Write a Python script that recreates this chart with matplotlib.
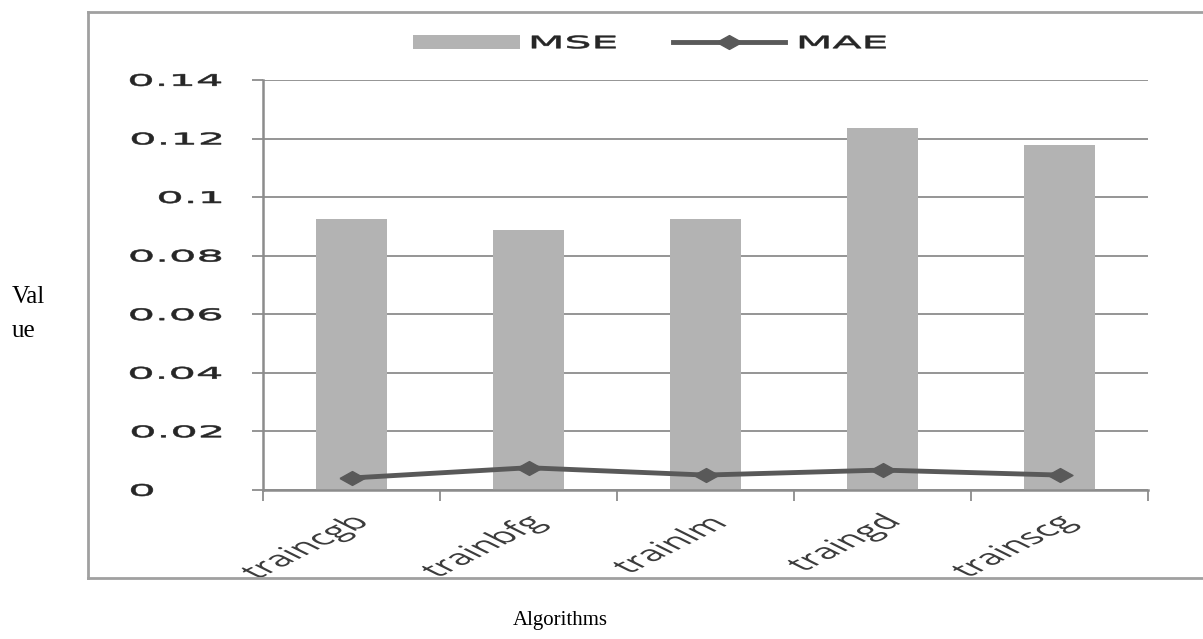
import matplotlib
matplotlib.use("Agg")
import matplotlib.pyplot as plt
from matplotlib.lines import Line2D
from matplotlib.patches import PathPatch, Rectangle
from matplotlib.textpath import TextPath
from matplotlib.font_manager import FontProperties
from matplotlib.transforms import Affine2D, IdentityTransform
import numpy as np

algorithms = ["traincgb", "trainbfg", "trainlm", "traingd", "trainscg"]
mse = [0.0925, 0.0888, 0.0925, 0.1236, 0.1178]
mae = [0.0041, 0.0076, 0.0051, 0.0068, 0.0051]
yticks = [0, 0.02, 0.04, 0.06, 0.08, 0.1, 0.12, 0.14]
ytick_labels = ["0", "0.02", "0.04", "0.06", "0.08", "0.1", "0.12", "0.14"]

W, H = 1203, 639
fig = plt.figure(figsize=(W / 100, H / 100), dpi=100)
ax = fig.add_axes([263 / W, 1 - 490 / H, 885 / W, 410 / H])

BAR_COLOR = "#b3b3b3"
LINE_COLOR = "#595959"
GRID = "#8c8c8c"
# the chart was pasted horizontally stretched, so diamonds and text are wide
wide_diamond = [(-1.8, 0), (0, 1), (1.8, 0), (0, -1), (-1.8, 0)]


def wide_text(s, x, y, size, sx, ha="left", rot=0, color="#333333",
              family="DejaVu Sans", stroke=0.0):
    # x, y in pixels from the bottom left; text centred vertically on y
    tp = TextPath((0, 0), s, size=size, prop=FontProperties(family=family))
    ext = tp.get_extents()
    tr = Affine2D()
    if ha == "right":
        tr.translate(-ext.x1, 0)
    elif ha == "center":
        tr.translate(-(ext.x0 + ext.x1) / 2, 0)
    else:
        tr.translate(-ext.x0, 0)
    tr.translate(0, -(ext.y0 + ext.y1) / 2)
    tr.rotate_deg(rot).scale(sx, 1).translate(x, y)
    fig.add_artist(PathPatch(tp, transform=tr, facecolor=color,
                             edgecolor=color, lw=stroke))


x = np.arange(len(algorithms))
ax.bar(x, mse, width=0.4, color=BAR_COLOR, zorder=2)
ax.plot(x, mae, color=LINE_COLOR, lw=3.5, marker=wide_diamond, markersize=18,
        zorder=3)

ax.set_xlim(-0.5, len(algorithms) - 0.5)
ax.set_ylim(0, 0.14)
ax.set_yticks(yticks)
ax.set_yticklabels([])
ax.yaxis.grid(True, color=GRID, lw=1.3, zorder=0)
ax.tick_params(axis="y", length=8, color=GRID, width=1.3)
ax.set_xticks(np.arange(len(algorithms) + 1) - 0.5)
ax.set_xticklabels([])
ax.tick_params(axis="x", length=8, color=GRID, width=1.3)
for side in ["top", "right"]:
    ax.spines[side].set_visible(False)
for side in ["left", "bottom"]:
    ax.spines[side].set_color(GRID)
    ax.spines[side].set_linewidth(1.8)

# y tick labels ("0" sits further left, as pasted)
for v, lab in zip(yticks, ytick_labels):
    px, py = ax.transData.transform((-0.5, v))
    if lab == "0":
        wide_text(lab, 142, py, 16, 2.7, ha="center", color="#262626", stroke=0.4)
    else:
        wide_text(lab, 221, py, 16, 2.7, ha="right", color="#262626", stroke=0.4)

# category labels, 45 degrees before the stretch
for i, lab in enumerate(algorithms):
    px, py = ax.transData.transform((i, 0))
    wide_text(lab, px + 10, py - 30, 21, 2.0, ha="right", rot=45,
              color="#3c3c3c", family="Open Sans")

# legend keys
legend_y = H - 42
fig.add_artist(Rectangle((413, legend_y - 7), 107, 14, facecolor=BAR_COLOR,
                         lw=0, transform=IdentityTransform()))
wide_text("MSE", 532, legend_y, 17, 2.5, color="#262626", stroke=0.4)
fig.add_artist(Line2D([673, 785], [legend_y, legend_y], color=LINE_COLOR, lw=3.5,
                      transform=IdentityTransform()))
fig.add_artist(Line2D([729], [legend_y], color=LINE_COLOR, marker=wide_diamond,
                      markersize=18, lw=0, transform=IdentityTransform()))
wide_text("MAE", 800, legend_y, 17, 2.5, color="#262626", stroke=0.4)

fig.text(12 / W, 1 - 303 / H, "Val", fontsize=18, family="Liberation Serif",
         ha="left", va="baseline")
fig.text(12 / W, 1 - 337 / H, "ue", fontsize=18, family="Liberation Serif",
         ha="left", va="baseline")
fig.text(560 / W, 1 - 620 / H, "Algorithms", fontsize=15,
         family="Liberation Serif", ha="center", va="center")

# outer frame: left, top and bottom edges
frame = dict(color="#a0a0a0", lw=2, transform=fig.transFigure)
fig.add_artist(Line2D([88 / W, 88 / W], [1 - 578 / H, 1 - 12 / H], **frame))
fig.add_artist(Line2D([88 / W, 1.0], [1 - 12 / H, 1 - 12 / H], **frame))
fig.add_artist(Line2D([88 / W, 1.0], [1 - 578 / H, 1 - 578 / H], **frame))

fig.savefig("out.png", dpi=100)
